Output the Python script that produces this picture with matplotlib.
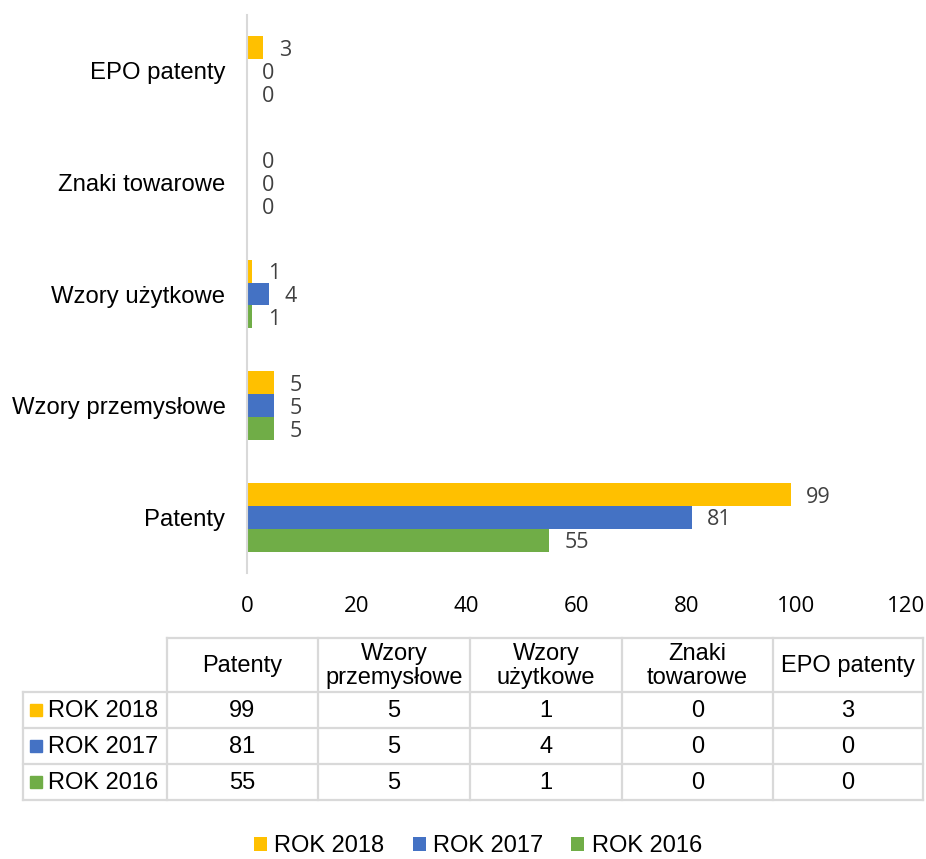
import matplotlib
matplotlib.use("Agg")
import matplotlib.pyplot as plt
from matplotlib.patches import Patch, Rectangle
import numpy as np

# ---- data ----
categories = ["Patenty", "Wzory przemysłowe", "Wzory użytkowe", "Znaki towarowe", "EPO patenty"]
table_headers = ["Patenty", "Wzory\nprzemysłowe", "Wzory\nużytkowe", "Znaki\ntowarowe", "EPO patenty"]
series_names = ["ROK 2018", "ROK 2017", "ROK 2016"]
rok_2018 = [99, 5, 1, 0, 3]
rok_2017 = [81, 5, 4, 0, 0]
rok_2016 = [55, 5, 1, 0, 0]
x_ticks = [0, 20, 40, 60, 80, 100, 120]

series_values = [rok_2018, rok_2017, rok_2016]
colors = ["#FFC000", "#4472C4", "#70AD47"]

W, H = 926, 859
fig = plt.figure(figsize=(W / 100, H / 100), dpi=100)

label_font = "Liberation Sans"
num_font = "Open Sans"

# main axes
ax = fig.add_axes([247 / W, 1 - 573 / H, (906 - 247) / W, (573 - 15) / H])
y = np.arange(len(categories))
bh = 0.205
offsets = [bh, 0, -bh]
for vals, off, c in zip(series_values, offsets, colors):
    bars = ax.barh(y + off, vals, height=bh, color=c, zorder=2)
    for b, v in zip(bars, vals):
        ax.annotate(str(v), xy=(b.get_width(), b.get_y() + b.get_height() / 2),
                    xytext=(11, -2), textcoords="offset points",
                    va="center", ha="left", fontsize=15.5, color="#404040",
                    family=num_font)

ax.set_xlim(0, 120)
ax.set_ylim(-0.5, len(categories) - 0.5)
ax.set_xticks(x_ticks)
ax.set_xticklabels([str(t) for t in x_ticks], family=num_font, fontsize=16, color="#000000")
ax.set_yticks(y)
ax.set_yticklabels(categories, family=label_font, fontsize=17.2, color="#000000")
ax.tick_params(axis="both", length=0)
ax.tick_params(axis="y", pad=15.5)
ax.tick_params(axis="x", pad=16.5)
for s in ["top", "right", "bottom"]:
    ax.spines[s].set_visible(False)
ax.spines["left"].set_color("#d9d9d9")
ax.spines["left"].set_linewidth(1.5)

# table overlay (pixel coordinates)
tax = fig.add_axes([0, 0, 1, 1])
tax.set_xlim(0, W)
tax.set_ylim(H, 0)
tax.axis("off")
col_edges = [23, 167, 318, 470, 622, 773, 923]
row_edges = [638, 692, 728, 764, 800]
lc = "#d9d9d9"
lw = 1.6
# header row lines (no top-left cell)
tax.plot([col_edges[1], col_edges[-1]], [row_edges[0]] * 2, color=lc, lw=lw)
for r in row_edges[1:]:
    tax.plot([col_edges[0], col_edges[-1]], [r, r], color=lc, lw=lw)
for i, cx in enumerate(col_edges):
    top = row_edges[1] if i == 0 else row_edges[0]
    tax.plot([cx, cx], [top, row_edges[-1]], color=lc, lw=lw)

for j, hdr in enumerate(table_headers):
    cx = (col_edges[j + 1] + col_edges[j + 2]) / 2
    tax.text(cx, (row_edges[0] + row_edges[1]) / 2 + 1, hdr, ha="center", va="center",
             family=label_font, fontsize=17, color="black", linespacing=1.15)

for i, (name, vals, c) in enumerate(zip(series_names, series_values, colors)):
    cy = (row_edges[i + 1] + row_edges[i + 2]) / 2
    tax.add_patch(Rectangle((30, cy - 6), 12, 12, color=c))
    tax.text(48, cy + 1, name, ha="left", va="center", family=label_font,
             fontsize=17, color="black")
    for j, v in enumerate(vals):
        cx = (col_edges[j + 1] + col_edges[j + 2]) / 2
        tax.text(cx, cy + 1, str(v), ha="center", va="center", family=label_font,
                 fontsize=17, color="black")

# bottom legend
handles = [Patch(facecolor=c, edgecolor="none") for c in colors]
leg = fig.legend(handles, series_names, loc="center", bbox_to_anchor=(478 / W, 1 - 846 / H),
                 ncol=3, frameon=False, prop={"family": label_font, "size": 17},
                 handlelength=0.55, handleheight=0.55, handletextpad=0.3,
                 columnspacing=1.2, borderaxespad=0, borderpad=0)

fig.savefig("out.png", dpi=100)
